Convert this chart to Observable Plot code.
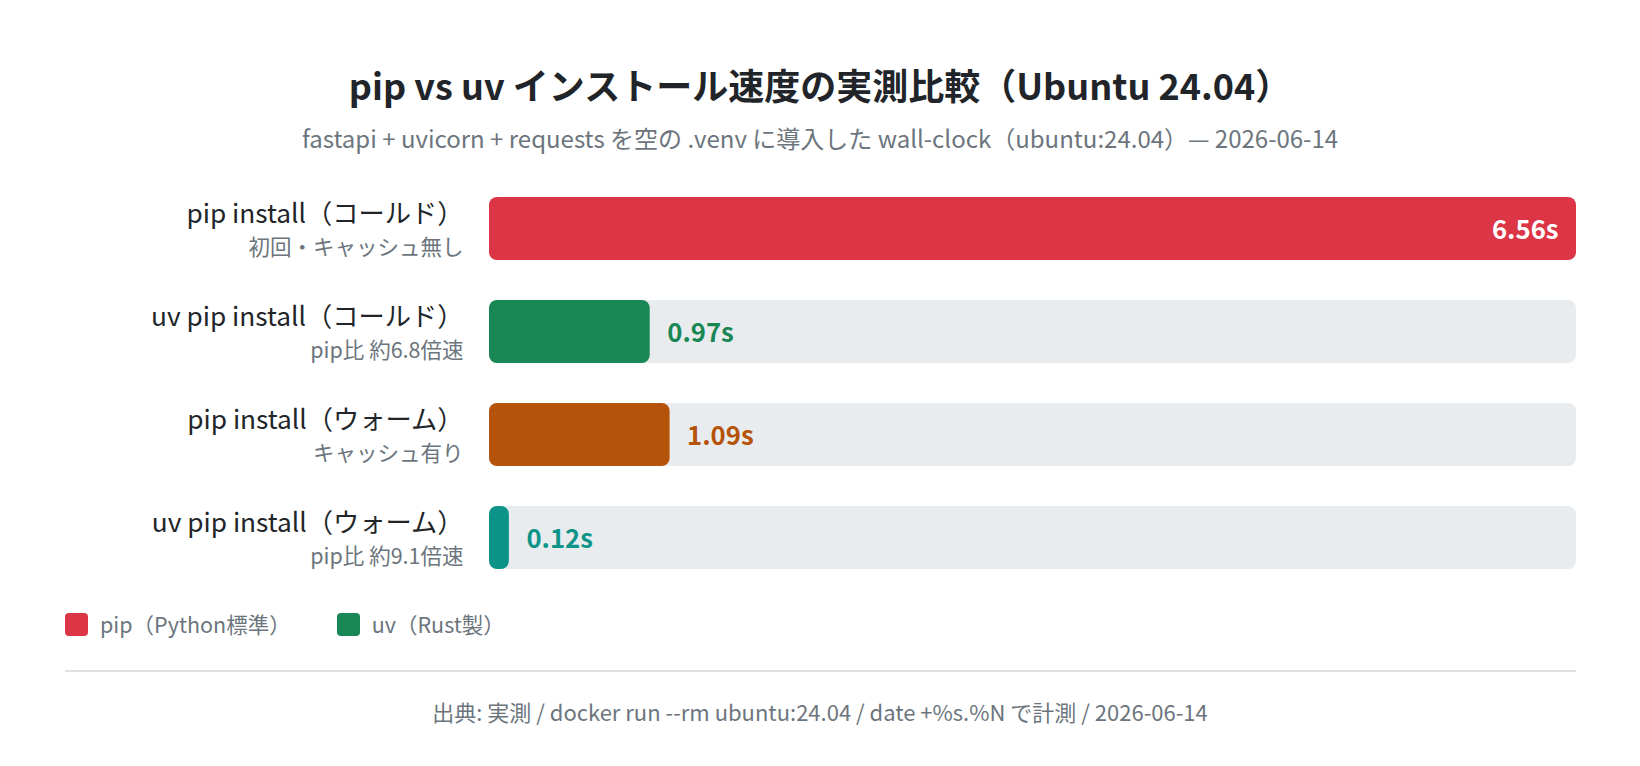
<!DOCTYPE html>
<html><head><meta charset="utf-8">
<script src="https://cdn.jsdelivr.net/npm/d3@7"></script>
<script src="https://cdn.jsdelivr.net/npm/@observablehq/plot@0.6"></script>
<style>
body{margin:0;background:#fff;font-family:"Noto Sans CJK JP","Noto Sans",sans-serif;}
#wrap{position:relative;width:1640px;height:766px;}
#title{position:absolute;top:59px;left:0;width:1640px;text-align:center;font-size:36px;font-weight:700;color:#212529;line-height:50px;}
#sub{position:absolute;top:121px;left:0;width:1640px;text-align:center;font-size:24px;color:#6c757d;line-height:34px;}
#chart{position:absolute;top:175px;left:0;}
#legend{position:absolute;top:609px;left:65px;display:flex;align-items:center;font-size:21.5px;color:#6c757d;line-height:30px;}
.li{display:flex;align-items:center;margin-right:46px;}
.sw{width:23px;height:23px;border-radius:4px;margin-right:12px;}
#rule{position:absolute;top:670px;left:65px;width:1511px;height:2px;background:#dee2e6;}
#cap{position:absolute;top:696px;left:0;width:1640px;text-align:center;font-size:22px;color:#6c757d;line-height:30px;}
</style></head>
<body><div id="wrap">
<div id="title">pip vs uv インストール速度の実測比較（Ubuntu 24.04）</div>
<div id="sub">fastapi + uvicorn + requests を空の .venv に導入した wall-clock（ubuntu:24.04）— 2026-06-14</div>
<div id="chart"></div>
<div id="legend"></div>
<div id="rule"></div>
<div id="cap">出典: 実測 / docker run --rm ubuntu:24.04 / date +%s.%N で計測 / 2026-06-14</div>
</div>
<script>
const labels = ["pip install（コールド）","uv pip install（コールド）","pip install（ウォーム）","uv pip install（ウォーム）"];
const sublabels = ["初回・キャッシュ無し","pip比 約6.8倍速","キャッシュ有り","pip比 約9.1倍速"];
const values = [6.56, 0.97, 1.09, 0.12];
const colors = ["#dc3545","#198754","#b45309","#0d9488"];
const legendLabels = ["pip（Python標準）","uv（Rust製）"];
const legendColors = ["#dc3545","#198754"];

const maxV = d3.max(values);
const data = labels.map((l,i)=>({label:l, sub:sublabels[i], value:values[i], color:colors[i], max:maxV, inside: values[i]===maxV}));

const plot = Plot.plot({
  width:1640, height:415,
  marginLeft:489, marginRight:64, marginTop:0, marginBottom:0,
  style:{fontFamily:'"Noto Sans CJK JP","Noto Sans",sans-serif', background:"transparent"},
  x:{domain:[0,maxV], axis:null},
  y:{domain:labels, axis:null, paddingInner:0.39, paddingOuter:0.2},
  marks:[
    Plot.barX(data,{y:"label", x:"max", fill:"#e9ecef", rx:8}),
    Plot.barX(data,{y:"label", x:"value", fill:d=>d.color, rx:8}),
    Plot.text(data,{y:"label", text:"label", frameAnchor:"left", textAnchor:"end", dx:-26, dy:-14.5, fontSize:26.25, fill:"#212529"}),
    Plot.text(data,{y:"label", text:"sub", frameAnchor:"left", textAnchor:"end", dx:-26, dy:19, fontSize:21.5, fill:"#6c757d"}),
    Plot.text(data.filter(d=>d.inside),{y:"label", x:"value", text:d=>d.value.toFixed(2)+"s", textAnchor:"end", dx:-18, dy:2, fontSize:25.7, fontWeight:700, fill:"#fff"}),
    Plot.text(data.filter(d=>!d.inside),{y:"label", x:"value", text:d=>d.value.toFixed(2)+"s", textAnchor:"start", dx:17, dy:2, fontSize:25.7, fontWeight:700, fill:d=>d.color})
  ]
});
document.getElementById("chart").appendChild(plot);

const lg = document.getElementById("legend");
legendLabels.forEach((t,i)=>{
  const it=document.createElement("div"); it.className="li";
  const sw=document.createElement("div"); sw.className="sw"; sw.style.background=legendColors[i];
  const tx=document.createElement("span"); tx.textContent=t;
  it.appendChild(sw); it.appendChild(tx); lg.appendChild(it);
});
</script>
</body></html>
